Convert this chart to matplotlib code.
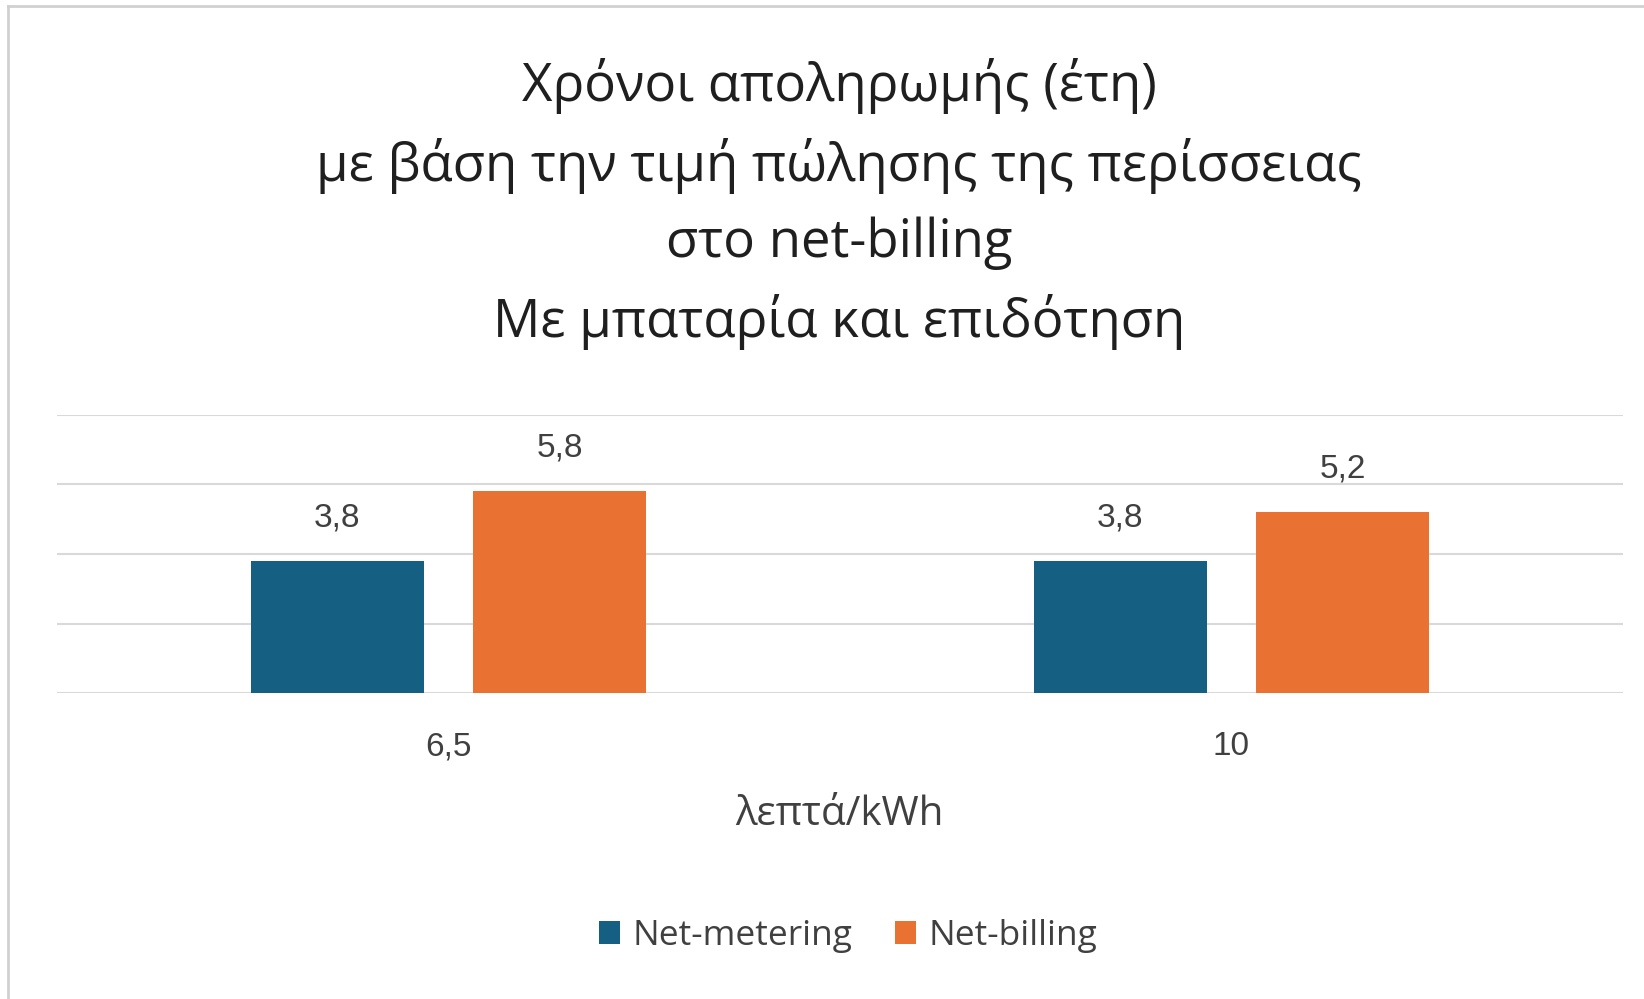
import matplotlib.pyplot as plt
import numpy as np

plt.rcParams['font.family'] = ['Open Sans', 'DejaVu Sans']

# δεδομένα
categories = ['6,5', '10']
net_metering = [3.8, 3.8]
net_billing = [5.8, 5.2]
series_names = ['Net-metering', 'Net-billing']
title = 'Χρόνοι αποληρωμής (έτη)\nμε βάση την τιμή πώλησης της περίσσειας\nστο net-billing\nΜε μπαταρία και επιδότηση'
xlabel = 'λεπτά/kWh'

blue = '#156082'
orange = '#E97132'
text_col = '#1F1F1F'

fig = plt.figure(figsize=(16.44, 9.99), dpi=100)
ax = fig.add_axes([0.0347, 0.3063, 0.9523, 0.2783])

index = np.arange(len(categories))
bar_width = 0.221
off = 0.142

b1 = ax.bar(index - off, net_metering, bar_width, color=blue, label=series_names[0], zorder=3)
b2 = ax.bar(index + off, net_billing, bar_width, color=orange, label=series_names[1], zorder=3)

label_font = ['Liberation Sans Narrow', 'Liberation Sans', 'DejaVu Sans']
for bars, vals in ((b1, net_metering), (b2, net_billing)):
    for rect, v in zip(bars, vals):
        ax.annotate(f'{v:.1f}'.replace('.', ','),
                    (rect.get_x() + rect.get_width() / 2, v),
                    xytext=(0, 31), textcoords='offset points',
                    ha='center', va='center', fontsize=24,
                    color='#404040', family=label_font)

ax.set_xlim(-0.5, 1.5)
ax.set_ylim(0, 8)
ax.set_yticks(np.arange(0, 9, 2))
ax.yaxis.grid(True, color='#D9D9D9', linewidth=1.5, zorder=0)
ax.tick_params(axis='y', left=False, labelleft=False)
ax.tick_params(axis='x', bottom=False, pad=24)
ax.set_xticks(index)
ax.set_xticklabels(categories, fontsize=24, color='#404040', family=label_font)
for s in ax.spines.values():
    s.set_visible(False)

fig.text(0.5105, 1 - 204 / 999, title, ha='center', va='center', multialignment='center',
         fontsize=38, color=text_col, linespacing=1.56)
fig.text(0.5105, 1 - 815 / 999, xlabel, ha='center', va='center', fontsize=29, color='#404040')

fig.legend(handles=[b1, b2], loc='center', bbox_to_anchor=(0.516, 1 - 936 / 999),
           ncol=2, frameon=False, fontsize=25.5, handlelength=0.6, handleheight=0.6,
           handletextpad=0.35, columnspacing=1.2, labelcolor='#404040')

# πλαίσιο
fig.add_artist(plt.Line2D([0.005, 1], [0.994, 0.994], color='#D0D0D0', linewidth=2, transform=fig.transFigure))
fig.add_artist(plt.Line2D([0.005, 0.005], [0, 0.994], color='#D0D0D0', linewidth=2, transform=fig.transFigure))

fig.savefig('out.png', dpi=100, facecolor='white')
